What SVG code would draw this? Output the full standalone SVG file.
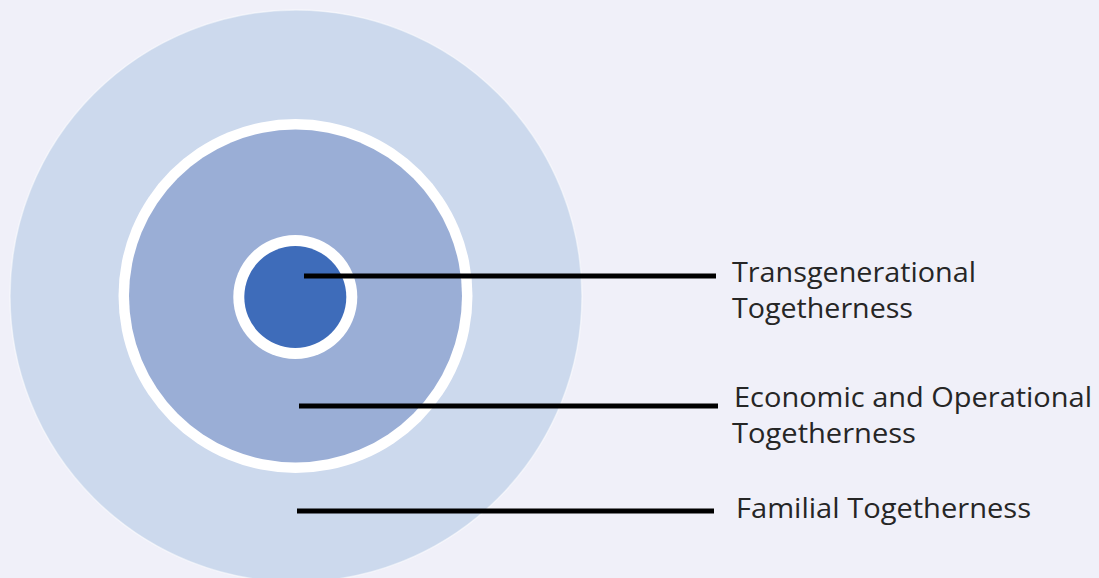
<svg xmlns="http://www.w3.org/2000/svg" width="1099" height="578" viewBox="0 0 1099 578">
  <style>
    .ring-outer { fill: #ccd9ed; stroke: #ffffff; stroke-width: 1.5; stroke-opacity: 0.5; }
    .ring-white { fill: #ffffff; }
    .ring-middle { fill: #9aaed6; }
    .ring-core { fill: #3e6cba; }
    .leader { stroke: #000000; stroke-width: 5; fill: none; }
    .label { font-family: "Open Sans", "Liberation Sans", sans-serif; font-size: 27px; fill: #262626; }
  </style>

  <!-- page background -->
  <rect x="0" y="0" width="1099" height="578" fill="#f0f0f9"/>

  <!-- outer layer: familial togetherness -->
  <g id="familial">
    <circle class="ring-outer" cx="296" cy="296" r="286"/>
  </g>

  <!-- middle layer: economic and operational togetherness -->
  <g id="economic-operational">
    <circle class="ring-white" cx="295.5" cy="296" r="177"/>
    <circle class="ring-middle" cx="295.5" cy="296" r="166.5"/>
  </g>

  <!-- core: transgenerational togetherness -->
  <g id="transgenerational">
    <circle class="ring-white" cx="295.3" cy="297" r="62"/>
    <circle class="ring-core" cx="295.3" cy="297" r="51"/>
  </g>

  <!-- leader lines from each layer to its label -->
  <g id="connectors">
    <line class="leader" x1="304" y1="276" x2="716" y2="276"/>
    <line class="leader" x1="299" y1="406" x2="718" y2="406"/>
    <line class="leader" x1="297" y1="511" x2="714" y2="511"/>
  </g>

  <!-- labels -->
  <g id="label-transgenerational">
    <text class="label" x="732" y="282" textLength="244" lengthAdjust="spacingAndGlyphs">Transgenerational</text>
    <text class="label" x="732" y="318" textLength="181" lengthAdjust="spacingAndGlyphs">Togetherness</text>
  </g>
  <g id="label-economic-operational">
    <text class="label" x="734" y="407" textLength="358" lengthAdjust="spacingAndGlyphs">Economic and Operational</text>
    <text class="label" x="732" y="443" textLength="184" lengthAdjust="spacingAndGlyphs">Togetherness</text>
  </g>
  <g id="label-familial">
    <text class="label" x="736" y="518" textLength="295" lengthAdjust="spacingAndGlyphs">Familial Togetherness</text>
  </g>
</svg>
